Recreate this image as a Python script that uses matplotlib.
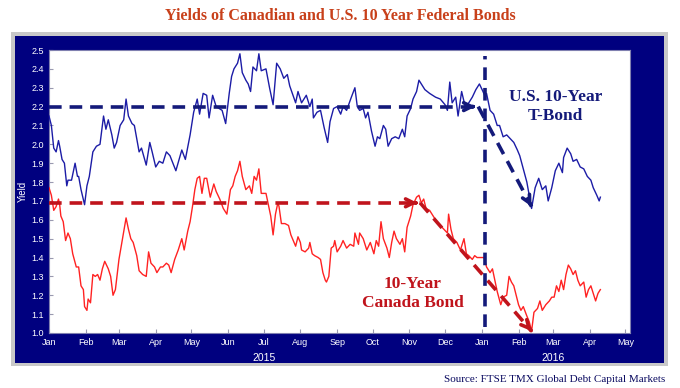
import matplotlib
matplotlib.use('Agg')
import matplotlib.pyplot as plt
import matplotlib.dates as mdates
import pandas as pd
from matplotlib.patches import Rectangle

# days counted from 2015-01-01, yields in %
us_day = [0, 2, 4, 6, 8, 9, 11, 13, 15, 16, 19, 22, 24, 25, 27, 30, 32, 34, 37, 40,
          43, 46, 48, 50, 53, 55, 57, 60, 63, 65, 67, 70, 72, 76, 78, 82, 85, 87, 90, 93,
          96, 99, 102, 107, 112, 115, 119, 122, 125, 127, 130, 133, 135, 138, 141, 146, 149, 152, 154, 156,
          159, 161, 163, 166, 168, 170, 172, 175, 177, 179, 183, 186, 189, 192, 195, 198, 201, 203, 208, 210,
          213, 217, 220, 222, 223, 226, 229, 232, 235, 237, 240, 243, 246, 248, 251, 255, 258, 260, 262, 265,
          267, 269, 272, 275, 277, 279, 282, 284, 286, 289, 292, 295, 298, 300, 302, 305, 307, 310, 312, 314,
          317, 321, 326, 330, 334, 336, 338, 340, 343, 345, 348, 351, 354, 357, 360, 363, 366, 368, 369, 372,
          375, 378, 380, 383, 386, 389, 392, 395, 397, 400, 403, 405, 407, 410, 413, 416, 419, 421, 424, 427,
          430, 433, 434, 437, 440, 442, 445, 448, 451, 454, 457, 459, 462, 464, 465]
us_yield = [2.15, 2.10, 1.98, 1.96, 2.02, 1.99, 1.92, 1.90, 1.78, 1.81, 1.81, 1.90, 1.83, 1.83, 1.76, 1.68, 1.78, 1.83, 1.96, 1.99,
            2.00, 2.15, 2.08, 2.13, 2.05, 1.98, 2.01, 2.10, 2.13, 2.24, 2.15, 2.11, 2.10, 1.96, 1.98, 1.89, 2.01, 1.96, 1.88, 1.91,
            1.90, 1.96, 1.94, 1.86, 1.97, 1.92, 2.05, 2.17, 2.24, 2.16, 2.27, 2.26, 2.14, 2.26, 2.20, 2.18, 2.11, 2.27, 2.36, 2.40,
            2.43, 2.48, 2.38, 2.34, 2.32, 2.28, 2.41, 2.39, 2.48, 2.39, 2.40, 2.30, 2.21, 2.43, 2.40, 2.35, 2.37, 2.31, 2.22, 2.28,
            2.22, 2.26, 2.20, 2.24, 2.14, 2.17, 2.18, 2.09, 2.01, 2.12, 2.19, 2.20, 2.16, 2.20, 2.18, 2.25, 2.30, 2.20, 2.18, 2.19,
            2.14, 2.17, 2.07, 1.99, 2.04, 2.03, 2.10, 2.08, 1.99, 2.03, 2.04, 2.03, 2.08, 2.04, 2.15, 2.19, 2.24, 2.28, 2.34, 2.32,
            2.29, 2.27, 2.25, 2.24, 2.21, 2.18, 2.33, 2.22, 2.25, 2.15, 2.28, 2.20, 2.22, 2.25, 2.29, 2.32, 2.28, 2.25, 2.27, 2.18,
            2.16, 2.10, 2.10, 2.04, 2.05, 2.03, 2.01, 1.97, 1.94, 1.87, 1.80, 1.73, 1.66, 1.77, 1.82, 1.76, 1.78, 1.70, 1.77, 1.86,
            1.90, 1.85, 1.93, 1.98, 1.95, 1.91, 1.92, 1.88, 1.87, 1.83, 1.81, 1.77, 1.73, 1.70, 1.72]

ca_day = [0, 2, 4, 6, 8, 9, 10, 12, 14, 16, 18, 20, 23, 25, 27, 29, 30, 32, 33, 35,
          37, 39, 41, 43, 45, 47, 50, 52, 54, 56, 59, 62, 65, 67, 69, 71, 74, 76, 79, 82,
          84, 86, 89, 91, 94, 96, 99, 101, 103, 106, 109, 112, 114, 117, 119, 121, 123, 125, 127, 129,
          131, 133, 136, 139, 141, 144, 147, 150, 153, 155, 157, 159, 161, 163, 166, 169, 171, 173, 175, 177,
          179, 183, 185, 187, 189, 191, 193, 194, 196, 199, 202, 204, 206, 208, 210, 212, 213, 216, 219, 220,
          222, 224, 227, 229, 231, 233, 234, 236, 238, 240, 241, 243, 246, 248, 251, 254, 257, 258, 261, 262,
          265, 268, 271, 274, 276, 278, 280, 282, 285, 287, 289, 291, 293, 296, 298, 300, 302, 305, 307, 310,
          312, 314, 316, 318, 321, 324, 327, 330, 333, 336, 337, 339, 341, 344, 347, 350, 352, 354, 357, 359,
          361, 364, 367, 369, 372, 374, 376, 378, 381, 383, 386, 388, 390, 392, 394, 396, 398, 400, 403, 405,
          407, 409, 412, 414, 416, 419, 422, 424, 426, 428, 430, 432, 434, 436, 438, 440, 442, 444, 446, 448,
          451, 453, 455, 457, 459, 461, 463, 465]
ca_yield = [1.77, 1.73, 1.65, 1.67, 1.71, 1.68, 1.62, 1.59, 1.49, 1.53, 1.50, 1.42, 1.35, 1.35, 1.25, 1.23, 1.14, 1.12, 1.18, 1.16,
            1.31, 1.30, 1.31, 1.28, 1.34, 1.38, 1.34, 1.30, 1.20, 1.23, 1.39, 1.50, 1.61, 1.55, 1.50, 1.48, 1.41, 1.33, 1.31, 1.30,
            1.43, 1.37, 1.35, 1.32, 1.35, 1.35, 1.37, 1.36, 1.32, 1.39, 1.44, 1.50, 1.44, 1.54, 1.59, 1.67, 1.76, 1.82, 1.83, 1.74,
            1.82, 1.82, 1.72, 1.79, 1.75, 1.71, 1.66, 1.63, 1.76, 1.78, 1.83, 1.86, 1.91, 1.83, 1.76, 1.78, 1.74, 1.83, 1.81, 1.87,
            1.74, 1.74, 1.68, 1.62, 1.52, 1.63, 1.69, 1.67, 1.58, 1.58, 1.57, 1.52, 1.49, 1.46, 1.51, 1.48, 1.44, 1.43, 1.45, 1.48,
            1.42, 1.41, 1.40, 1.39, 1.32, 1.28, 1.27, 1.30, 1.45, 1.46, 1.49, 1.43, 1.46, 1.49, 1.45, 1.47, 1.46, 1.53, 1.47, 1.53,
            1.50, 1.44, 1.48, 1.42, 1.49, 1.46, 1.59, 1.50, 1.45, 1.40, 1.48, 1.54, 1.50, 1.47, 1.50, 1.43, 1.56, 1.62, 1.68, 1.72,
            1.73, 1.69, 1.71, 1.66, 1.65, 1.62, 1.59, 1.57, 1.55, 1.53, 1.63, 1.55, 1.50, 1.48, 1.44, 1.50, 1.42, 1.41, 1.39, 1.41,
            1.40, 1.40, 1.40, 1.35, 1.32, 1.34, 1.28, 1.22, 1.15, 1.19, 1.20, 1.30, 1.27, 1.25, 1.20, 1.15, 1.12, 1.14, 1.09, 1.06,
            1.01, 1.11, 1.13, 1.17, 1.12, 1.15, 1.17, 1.19, 1.19, 1.25, 1.22, 1.28, 1.23, 1.31, 1.36, 1.34, 1.31, 1.33, 1.28, 1.25,
            1.27, 1.19, 1.23, 1.25, 1.21, 1.17, 1.21, 1.23]

# trend arrows: (start day, start yield, end day, end yield)
us_flat = (0, 2.20, 362, 2.20)
us_drop = (362, 2.20, 407, 1.67)
ca_flat = (0, 1.69, 313, 1.69)
ca_drop = (313, 1.69, 407, 1.01)
jan_line_day = 368

start = pd.Timestamp('2015-01-01')
def to_date(d):
    return start + pd.to_timedelta(d, unit='D')

us_dates = [to_date(d) for d in us_day]
ca_dates = [to_date(d) for d in ca_day]

NAVY = '#00007f'
BLUE = '#1c1ca6'
RED = '#ff2222'
DKRED = '#c0141c'
DKBLUE = '#141a7a'

fig = plt.figure(figsize=(6.8, 3.88), dpi=100)
fig.patch.set_facecolor('white')
fig.patches.append(Rectangle((11/680, 1-366/388), 657/680, 334/388, transform=fig.transFigure,
                             facecolor='#c8c8c8', edgecolor='none', zorder=0))
fig.patches.append(Rectangle((15/680, 1-363/388), 649/680, 327/388, transform=fig.transFigure,
                             facecolor=NAVY, edgecolor='none', zorder=1))

ax = fig.add_axes([49/680, 1-333/388, 581/680, 283/388])
ax.set_zorder(5)
ax.set_facecolor('white')

ax.plot(us_dates, us_yield, color=BLUE, lw=1.0, zorder=3)
ax.plot(ca_dates, ca_yield, color=RED, lw=1.0, zorder=3)

def dashed_arrow(seg, color):
    d0, y0, d1, y1 = seg
    x0, x1 = to_date(d0), to_date(d1)
    ax.plot([x0, x1], [y0, y1], color=color, lw=2.6, dashes=(3.5, 2.2), zorder=4)
    # solid head at the tip
    xm = to_date(d1 - (d1 - d0) * 0.02)
    ym = y1 - (y1 - y0) * 0.02
    ax.annotate('', xy=(mdates.date2num(x1), y1), xytext=(mdates.date2num(xm), ym),
                arrowprops=dict(arrowstyle='->', color=color, lw=2.6, mutation_scale=14), zorder=5)

dashed_arrow(us_flat, DKBLUE)
dashed_arrow(us_drop, DKBLUE)
dashed_arrow(ca_flat, DKRED)
dashed_arrow(ca_drop, DKRED)

ax.plot([to_date(jan_line_day)] * 2, [1.03, 2.47], color=DKBLUE, lw=2.6, dashes=(3.5, 2.2), zorder=4)

ax.text(to_date(427), 2.20, 'U.S. 10-Year\nT-Bond', color=DKBLUE, ha='center', va='center',
        fontsize=12.5, fontweight='bold', family='Liberation Serif', linespacing=1.2)
ax.text(to_date(307), 1.21, '10-Year\nCanada Bond', color=DKRED, ha='center', va='center',
        fontsize=12.5, fontweight='bold', family='Liberation Serif', linespacing=1.2)

ax.set_ylim(1.0, 2.5)
ax.set_yticks([1.0 + 0.1 * i for i in range(16)])
ax.yaxis.set_major_formatter(plt.FormatStrFormatter('%.1f'))
ax.set_xlim(to_date(0), to_date(490))
ax.xaxis.set_major_locator(mdates.MonthLocator())
ax.xaxis.set_major_formatter(mdates.DateFormatter('%b'))
ax.tick_params(colors='#9a9ab0', labelcolor='white', labelsize=6.5, direction='in', length=3, width=0.8)
for lab in ax.get_xticklabels() + ax.get_yticklabels():
    lab.set_family('Liberation Sans')
for s in ax.spines.values():
    s.set_color('#8080b0')
    s.set_linewidth(0.8)

ax.set_ylabel('Yield', color='white', fontsize=7, family='Liberation Sans', labelpad=3)
ax.text(to_date(181), -0.07, '2015', transform=ax.get_xaxis_transform(), color='white',
        ha='center', va='top', fontsize=7.5, family='Liberation Sans')
ax.text(to_date(425), -0.07, '2016', transform=ax.get_xaxis_transform(), color='white',
        ha='center', va='top', fontsize=7.5, family='Liberation Sans')

fig.text(340/680, 1-16/388, 'Yields of Canadian and U.S. 10 Year Federal Bonds', color='#c8401a',
         ha='center', va='center', fontsize=11.5, fontweight='bold', family='Liberation Serif')
fig.text(665/680, 1-379/388, 'Source: FTSE TMX Global Debt Capital Markets', color='#0a0a60',
         ha='right', va='center', fontsize=8, family='Liberation Serif')

fig.savefig('out.png', dpi=100)
